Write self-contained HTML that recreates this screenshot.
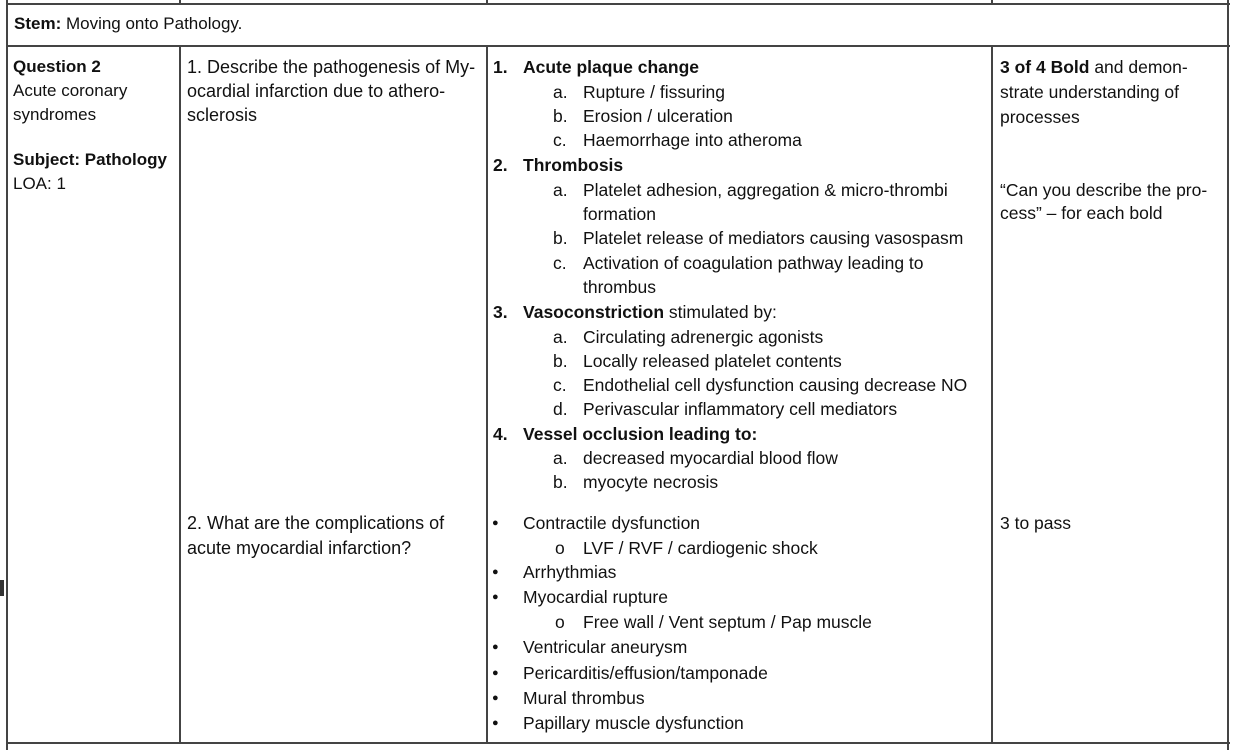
<!DOCTYPE html>
<html><head><meta charset="utf-8"><style>
body{margin:0;background:#fff;}
#c{position:relative;width:1238px;height:750px;overflow:hidden;background:#fff;font-family:"Liberation Sans",sans-serif;font-size:17.5px;color:#111;}
.h{position:absolute;height:2px;background:#444;}
.v{position:absolute;width:2px;background:#444;}
.t{position:absolute;white-space:nowrap;line-height:24px;height:24px;}
.c1{font-size:17px;}
.c2{font-size:18px;}
.bu{font-size:11px;}
b{font-weight:bold;}
</style></head><body><div id="c">
<div class="h" style="left:6px;width:1224px;top:3px"></div>
<div class="h" style="left:6px;width:1224px;top:45px"></div>
<div class="h" style="left:6px;width:1224px;top:742px"></div>
<div class="v" style="left:6px;top:0;height:750px"></div>
<div class="v" style="left:1227px;top:0;height:750px"></div>
<div class="v" style="left:179px;top:0;height:4px"></div>
<div class="v" style="left:486px;top:0;height:4px"></div>
<div class="v" style="left:991px;top:0;height:4px"></div>
<div class="v" style="left:179px;top:46px;height:697px"></div>
<div class="v" style="left:486px;top:46px;height:697px"></div>
<div class="v" style="left:991px;top:46px;height:697px"></div>
<div style="position:absolute;left:0;top:580px;width:4px;height:16px;background:#333"></div>

<div class="t c1" style="left:14px;top:12px"><b>Stem:</b> Moving onto Pathology.</div>

<div class="t c1" style="left:13px;top:55px"><b>Question 2</b></div>
<div class="t c1" style="left:13px;top:79px">Acute coronary</div>
<div class="t c1" style="left:13px;top:103px">syndromes</div>
<div class="t c1" style="left:13px;top:148px"><b>Subject: Pathology</b></div>
<div class="t c1" style="left:13px;top:172px">LOA: 1</div>

<div class="t c2" style="left:187px;top:55px">1. Describe the pathogenesis of My-</div>
<div class="t c2" style="left:187px;top:79px">ocardial infarction due to athero-</div>
<div class="t c2" style="left:187px;top:103px">sclerosis</div>

<div class="t" style="left:493px;top:55px"><b>1.</b></div><div class="t" style="left:523px;top:55px"><b>Acute plaque change</b></div>
<div class="t" style="left:553px;top:80px">a.</div><div class="t" style="left:583px;top:80px">Rupture / fissuring</div>
<div class="t" style="left:553px;top:104px">b.</div><div class="t" style="left:583px;top:104px">Erosion / ulceration</div>
<div class="t" style="left:553px;top:128px">c.</div><div class="t" style="left:583px;top:128px">Haemorrhage into atheroma</div>
<div class="t" style="left:493px;top:153px"><b>2.</b></div><div class="t" style="left:523px;top:153px"><b>Thrombosis</b></div>
<div class="t" style="left:553px;top:178px">a.</div><div class="t" style="left:583px;top:178px">Platelet adhesion, aggregation &amp; micro-thrombi</div>
<div class="t" style="left:583px;top:202px">formation</div>
<div class="t" style="left:553px;top:226px">b.</div><div class="t" style="left:583px;top:226px">Platelet release of mediators causing vasospasm</div>
<div class="t" style="left:553px;top:251px">c.</div><div class="t" style="left:583px;top:251px">Activation of coagulation pathway leading to</div>
<div class="t" style="left:583px;top:275px">thrombus</div>
<div class="t" style="left:493px;top:300px"><b>3.</b></div><div class="t" style="left:523px;top:300px"><b>Vasoconstriction</b> stimulated by:</div>
<div class="t" style="left:553px;top:325px">a.</div><div class="t" style="left:583px;top:325px">Circulating adrenergic agonists</div>
<div class="t" style="left:553px;top:349px">b.</div><div class="t" style="left:583px;top:349px">Locally released platelet contents</div>
<div class="t" style="left:553px;top:373px">c.</div><div class="t" style="left:583px;top:373px">Endothelial cell dysfunction causing decrease NO</div>
<div class="t" style="left:553px;top:397px">d.</div><div class="t" style="left:583px;top:397px">Perivascular inflammatory cell mediators</div>
<div class="t" style="left:493px;top:422px"><b>4.</b></div><div class="t" style="left:523px;top:422px"><b>Vessel occlusion leading to:</b></div>
<div class="t" style="left:553px;top:446px">a.</div><div class="t" style="left:583px;top:446px">decreased myocardial blood flow</div>
<div class="t" style="left:553px;top:470px">b.</div><div class="t" style="left:583px;top:470px">myocyte necrosis</div>

<div class="t" style="left:1000px;top:55px"><b>3 of 4 Bold</b> and demon-</div>
<div class="t" style="left:1000px;top:80px">strate understanding of</div>
<div class="t" style="left:1000px;top:105px">processes</div>
<div class="t" style="left:1000px;top:178px">“Can you describe the pro-</div>
<div class="t" style="left:1000px;top:201px">cess” – for each bold</div>

<div class="t c2" style="left:187px;top:511px">2. What are the complications of</div>
<div class="t c2" style="left:187px;top:536px">acute myocardial infarction?</div>

<div class="t bu" style="left:492px;top:511px">●</div><div class="t" style="left:523px;top:511px">Contractile dysfunction</div>
<div class="t" style="left:555px;top:536px">o</div><div class="t" style="left:583px;top:536px">LVF / RVF / cardiogenic shock</div>
<div class="t bu" style="left:492px;top:560px">●</div><div class="t" style="left:523px;top:560px">Arrhythmias</div>
<div class="t bu" style="left:492px;top:585px">●</div><div class="t" style="left:523px;top:585px">Myocardial rupture</div>
<div class="t" style="left:555px;top:610px">o</div><div class="t" style="left:583px;top:610px">Free wall / Vent septum / Pap muscle</div>
<div class="t bu" style="left:492px;top:635px">●</div><div class="t" style="left:523px;top:635px">Ventricular aneurysm</div>
<div class="t bu" style="left:492px;top:661px">●</div><div class="t" style="left:523px;top:661px">Pericarditis/effusion/tamponade</div>
<div class="t bu" style="left:492px;top:686px">●</div><div class="t" style="left:523px;top:686px">Mural thrombus</div>
<div class="t bu" style="left:492px;top:711px">●</div><div class="t" style="left:523px;top:711px">Papillary muscle dysfunction</div>

<div class="t" style="left:1000px;top:511px">3 to pass</div>
</div></body></html>
